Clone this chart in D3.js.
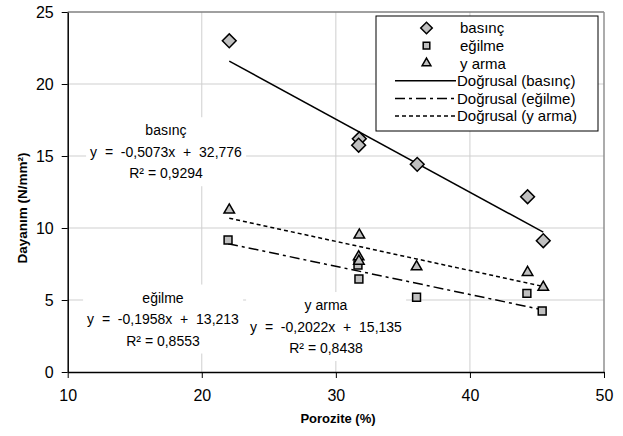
<!DOCTYPE html>
<html>
<head>
<meta charset="utf-8">
<script src="https://cdn.jsdelivr.net/npm/d3@7"></script>
<style>
  body { margin: 0; background: #fff; }
  text { font-family: "Liberation Sans", Arial, sans-serif; }
</style>
</head>
<body>
<svg id="chart" width="623" height="436"></svg>
<script>
// data
let basincX = [22.05, 31.75, 31.7, 36.07, 44.3, 45.47];
let basincY = [23.0, 16.2, 15.75, 14.42, 12.17, 9.12];
let egilmeX = [21.96, 31.65, 31.72, 36.02, 44.25, 45.39];
let egilmeY = [9.17, 7.43, 6.46, 5.19, 5.46, 4.24];
let yarmaX = [22.05, 31.75, 31.7, 31.72, 36.02, 44.3, 45.47];
let yarmaY = [11.25, 9.51, 8.0, 7.7, 7.31, 6.92, 5.88];

// trend line coefficients (slope, intercept) as printed on the chart
let trendSlope = [-0.5073, -0.1958, -0.2022];
let trendIntercept = [32.776, 13.213, 15.135];

let seriesNames = ["basınç", "eğilme", "y arma"];
let trendNames = ["Doğrusal (basınç)", "Doğrusal (eğilme)", "Doğrusal (y arma)"];
let annotLines = [
  ["basınç", "y  =  -0,5073x  +  32,776", "R² = 0,9294"],
  ["eğilme", "y  =  -0,1958x  +  13,213", "R² = 0,8553"],
  ["y arma", "y  =  -0,2022x  +  15,135", "R² = 0,8438"],
];
let xTicks = [10, 20, 30, 40, 50];
let yTicks = [0, 5, 10, 15, 20, 25];

let margin = { top: 12, right: 19, bottom: 64, left: 67.7 },
  width = 623 - margin.left - margin.right,
  height = 436 - margin.top - margin.bottom;

let svg = d3.select("#chart");
let g = svg
  .append("g")
  .attr("transform", "translate(" + margin.left + "," + margin.top + ")");

let x = d3.scaleLinear().domain([10, 50]).range([0, width]);
let y = d3.scaleLinear().domain([0, 25]).range([height, 0]);

// gridlines
g.selectAll(".hgrid")
  .data(yTicks.filter((d) => d > 0 && d < 25))
  .enter()
  .append("line")
  .attr("x1", 0)
  .attr("x2", width)
  .attr("y1", (d) => y(d))
  .attr("y2", (d) => y(d))
  .attr("stroke", "#cfcfcf")
  .attr("stroke-width", 1);
g.selectAll(".vgrid")
  .data(xTicks.filter((d) => d > 10 && d < 50))
  .enter()
  .append("line")
  .attr("y1", 0)
  .attr("y2", height)
  .attr("x1", (d) => x(d))
  .attr("x2", (d) => x(d))
  .attr("stroke", "#cfcfcf")
  .attr("stroke-width", 1);

// top and right border
g.append("line").attr("x1", 0).attr("x2", width).attr("y1", 0).attr("y2", 0)
  .attr("stroke", "#808080").attr("stroke-width", 1.5);
g.append("line").attr("x1", width).attr("x2", width).attr("y1", 0).attr("y2", height)
  .attr("stroke", "#909090").attr("stroke-width", 1.5);

// axes
let xAxis = g
  .append("g")
  .attr("transform", "translate(0," + height + ")")
  .call(d3.axisBottom(x).tickValues(xTicks).tickSize(6).tickPadding(12).tickSizeOuter(0));
let yAxis = g
  .append("g")
  .call(d3.axisLeft(y).tickValues(yTicks).tickSize(6).tickPadding(8).tickSizeOuter(0));
[xAxis, yAxis].forEach((a) => {
  a.select(".domain").attr("stroke", "#000").attr("stroke-width", 1.5);
  a.selectAll(".tick line").attr("stroke", "#000");
  a.selectAll(".tick text")
    .attr("font-size", "16px")
    .attr("fill", "#000")
    .style("font-family", '"Liberation Sans", Arial, sans-serif');
});

// axis titles
svg
  .append("text")
  .attr("x", 338)
  .attr("y", 423)
  .attr("text-anchor", "middle")
  .attr("font-size", "13px")
  .attr("font-weight", "bold")
  .text("Porozite (%)");
svg
  .append("text")
  .attr("transform", "translate(27,208) rotate(-90)")
  .attr("text-anchor", "middle")
  .attr("font-size", "13.5px")
  .attr("font-weight", "bold")
  .text("Dayanım (N/mm²)");

// equation labels (centre of each block, in pixels of the plot group)
let annotPos = [
  { cx: 166 - margin.left, cy: 151.7 - margin.top },
  { cx: 163 - margin.left, cy: 319 - margin.top },
  { cx: 326 - margin.left, cy: 326.5 - margin.top },
];
annotLines.forEach((lines, i) => {
  let blk = g.append("g");
  let bg = blk.append("rect").attr("fill", "#fff");
  let t = blk
    .append("text")
    .attr("text-anchor", "middle")
    .attr("font-size", "14px")
    .style("white-space", "pre");
  lines.forEach((s, j) => {
    t.append("tspan")
      .attr("x", annotPos[i].cx)
      .attr("y", annotPos[i].cy + (j - 1) * 21.5)
      .attr("dy", "0.36em")
      .text(s);
  });
  let bb = t.node().getBBox();
  bg.attr("x", bb.x - 4)
    .attr("y", bb.y - 5)
    .attr("width", bb.width + 8)
    .attr("height", bb.height + 10);
});

// trend lines
let dashes = [null, "10,4,3,4", "4,3"];
let xsAll = [basincX, egilmeX, yarmaX];
let ysAll = [basincY, egilmeY, yarmaY];
xsAll.forEach((xs, i) => {
  let ext = d3.extent(xs);
  let pts = ext.map((v) => [v, trendSlope[i] * v + trendIntercept[i]]);
  g.append("path")
    .attr("fill", "none")
    .attr("stroke", "#000")
    .attr("stroke-width", 1.5)
    .attr("stroke-dasharray", dashes[i])
    .attr("d", d3.line().x((d) => x(d[0])).y((d) => y(d[1]))(pts));
});

// markers
let symbols = [
  { type: d3.symbolSquare, size: 95, rot: 45 },
  { type: d3.symbolSquare, size: 62, rot: 0 },
  { type: d3.symbolTriangle, size: 48, rot: 0 },
];
xsAll.forEach((xs, i) => {
  g.selectAll(".m" + i)
    .data(xs.map((v, k) => [v, ysAll[i][k]]))
    .enter()
    .append("path")
    .attr("d", d3.symbol().type(symbols[i].type).size(symbols[i].size))
    .attr("transform", (d) =>
      "translate(" + x(d[0]) + "," + y(d[1]) + ") rotate(" + symbols[i].rot + ")")
    .attr("fill", "#c0c0c0")
    .attr("stroke", "#000")
    .attr("stroke-width", 1.5);
});

// legend
let lg = svg.append("g");
lg.append("rect")
  .attr("x", 376)
  .attr("y", 16)
  .attr("width", 222)
  .attr("height", 115)
  .attr("fill", "#fff")
  .attr("stroke", "#000")
  .attr("stroke-width", 1);
let rowY = (k) => 28 + k * 17.6;
seriesNames.forEach((name, i) => {
  lg.append("path")
    .attr("d", d3.symbol().type(symbols[i].type).size(symbols[i].size * 0.7))
    .attr("transform", "translate(426.5," + rowY(i) + ") rotate(" + symbols[i].rot + ")")
    .attr("fill", "#c0c0c0")
    .attr("stroke", "#000")
    .attr("stroke-width", 1.5);
  lg.append("text")
    .attr("x", 460)
    .attr("y", rowY(i))
    .attr("dy", "0.36em")
    .attr("font-size", "15px")
    .text(name);
});
trendNames.forEach((name, i) => {
  let yy = rowY(i + 3);
  lg.append("line")
    .attr("x1", 395)
    .attr("x2", 456)
    .attr("y1", yy)
    .attr("y2", yy)
    .attr("stroke", "#000")
    .attr("stroke-width", 1.5)
    .attr("stroke-dasharray", dashes[i]);
  lg.append("text")
    .attr("x", 457)
    .attr("y", yy)
    .attr("dy", "0.36em")
    .attr("font-size", "15px")
    .text(name);
});
</script>
</body>
</html>
